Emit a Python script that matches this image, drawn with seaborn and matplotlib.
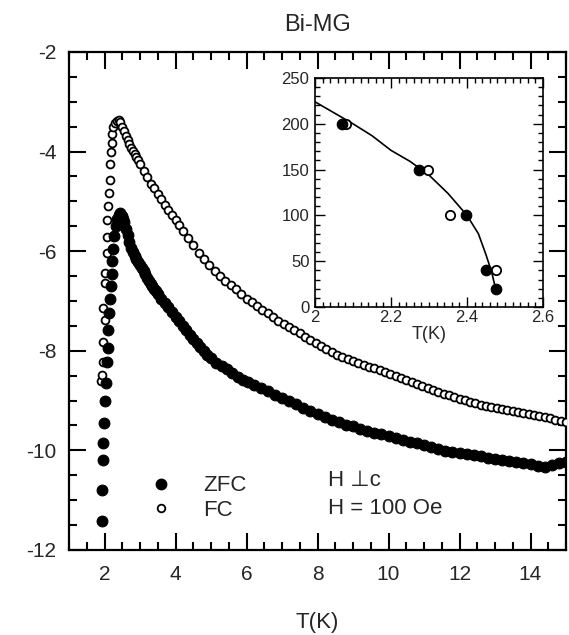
import numpy as np
import pandas as pd
import matplotlib
matplotlib.use("Agg")
import matplotlib.pyplot as plt
from matplotlib.lines import Line2D
from matplotlib.ticker import MultipleLocator
import seaborn as sns

# ---------------- data ----------------
zfc_T = [1.92, 1.93, 1.96, 1.96, 1.98, 2.02, 2.03, 2.07, 2.09, 2.11, 2.14, 2.15, 2.18,
         2.20, 2.22, 2.25, 2.28, 2.32, 2.36, 2.40, 2.44, 2.48,
         2.52, 2.55, 2.60, 2.65, 2.70, 2.75, 2.80, 2.85, 2.90, 2.95, 3.00, 3.05, 3.10,
         3.15, 3.20, 3.25, 3.30, 3.35, 3.40, 3.45,
         3.5, 3.6, 3.7, 3.8, 3.9, 4.0, 4.1, 4.2, 4.3, 4.4, 4.5, 4.6, 4.7, 4.8, 4.9, 5.0,
         5.15, 5.3, 5.45, 5.6, 5.75, 5.9, 6.05, 6.2,
         6.4, 6.6, 6.8, 7.0,
         7.2, 7.4, 7.6, 7.8, 8.0, 8.2, 8.4, 8.6, 8.8, 9.0, 9.2, 9.4, 9.6, 9.8, 10.0,
         10.2, 10.4, 10.6, 10.8, 11.0, 11.2, 11.4, 11.6, 11.8, 12.0, 12.2, 12.4, 12.6,
         12.8, 13.0, 13.2, 13.4, 13.6, 13.8, 14.0, 14.2, 14.4, 14.6, 14.8, 15.0]
zfc_M = [-11.42, -10.80, -10.19, -9.85, -9.44, -9.00, -8.65, -8.22, -7.95, -7.58, -7.24, -6.95, -6.70,
         -6.45, -6.20, -5.95, -5.70, -5.50, -5.35, -5.28, -5.24, -5.30,
         -5.36, -5.42, -5.55, -5.68, -5.81, -5.93, -6.02, -6.10, -6.16, -6.22, -6.28, -6.33, -6.40,
         -6.46, -6.53, -6.60, -6.65, -6.70, -6.75, -6.80,
         -6.85, -6.95, -7.04, -7.13, -7.23, -7.32, -7.41, -7.50, -7.59, -7.68, -7.77, -7.85, -7.93, -8.00, -8.08, -8.15,
         -8.24, -8.30, -8.36, -8.44, -8.52, -8.58, -8.63, -8.68,
         -8.74, -8.80, -8.88, -8.94,
         -9.00, -9.07, -9.14, -9.21, -9.26, -9.32, -9.38, -9.43, -9.48, -9.52, -9.57, -9.61, -9.65, -9.68, -9.72,
         -9.76, -9.79, -9.83, -9.86, -9.90, -9.94, -9.98, -10.01, -10.04, -10.06, -10.08, -10.10, -10.12,
         -10.15, -10.17, -10.19, -10.21, -10.23, -10.25, -10.28, -10.31, -10.33, -10.29, -10.26, -10.23]

fc_T = [1.90, 1.92, 1.97, 1.97, 1.97, 2.01, 2.01, 2.01, 2.06, 2.06, 2.06, 2.11, 2.13, 2.15,
        2.15, 2.17, 2.20, 2.22, 2.25, 2.30, 2.35, 2.40, 2.45,
        2.5, 2.55, 2.6, 2.65, 2.7, 2.75, 2.8, 2.85, 2.9, 2.95, 3.0, 3.1, 3.2, 3.3, 3.4, 3.5, 3.6,
        3.7, 3.8, 3.9, 4.0, 4.1,
        4.2, 4.35, 4.5, 4.65, 4.8, 4.95, 5.1, 5.25, 5.4, 5.55, 5.7, 5.85, 6.0, 6.15, 6.3,
        6.45, 6.6, 6.75, 6.9, 7.05, 7.2, 7.35, 7.5, 7.65, 7.8, 7.95, 8.1, 8.25, 8.4, 8.55,
        8.7, 8.85, 9.0, 9.15, 9.3, 9.45, 9.6, 9.75, 9.9, 10.05, 10.2, 10.35, 10.5, 10.65,
        10.8, 10.95, 11.1, 11.25, 11.4, 11.55, 11.7, 11.85, 12.0, 12.15, 12.3, 12.45, 12.6,
        12.75, 12.9, 13.05, 13.2, 13.35, 13.5, 13.65, 13.8, 13.95, 14.1, 14.25, 14.4, 14.55,
        14.7, 14.85, 15.0]
fc_M = [-8.60, -8.49, -8.22, -7.82, -7.15, -7.38, -6.64, -6.44, -6.04, -5.71, -5.37, -5.10, -4.84, -4.57,
        -4.24, -4.00, -3.83, -3.65, -3.50, -3.42, -3.38, -3.37, -3.40,
        -3.50, -3.59, -3.68, -3.77, -3.85, -3.92, -3.98, -4.04, -4.10, -4.17, -4.25, -4.38, -4.52, -4.65, -4.74, -4.85, -4.96,
        -5.07, -5.18, -5.28, -5.38, -5.48,
        -5.60, -5.74, -5.88, -6.03, -6.15, -6.28, -6.40, -6.50, -6.60, -6.68, -6.76, -6.86, -6.95, -7.03, -7.10,
        -7.18, -7.25, -7.32, -7.40, -7.46, -7.52, -7.58, -7.64, -7.72, -7.78, -7.84, -7.90, -7.96, -8.02, -8.08,
        -8.13, -8.17, -8.21, -8.25, -8.29, -8.32, -8.35, -8.39, -8.43, -8.47, -8.51, -8.55, -8.59, -8.62,
        -8.66, -8.70, -8.74, -8.78, -8.82, -8.86, -8.89, -8.92, -8.96, -8.99, -9.02, -9.05, -9.08,
        -9.10, -9.13, -9.15, -9.17, -9.19, -9.21, -9.23, -9.25, -9.27, -9.29, -9.31, -9.33, -9.35,
        -9.38, -9.40, -9.42]

inset_zfc_T = [2.07, 2.273, 2.397, 2.449, 2.477]
inset_zfc_H = [200, 150, 100, 40, 20]
inset_fc_T = [2.081, 2.298, 2.355, 2.477]
inset_fc_H = [200, 150, 100, 40]
fit_T = [2.00, 2.05, 2.10, 2.15, 2.20, 2.25, 2.30, 2.35, 2.40, 2.43, 2.45, 2.465, 2.474, 2.477]
fit_H = [224, 212, 200, 187, 171, 159, 144, 124, 100, 80, 57, 38, 22, 18]

x_ticks = [2, 4, 6, 8, 10, 12, 14]
y_ticks = [-12, -10, -8, -6, -4, -2]
inset_x_ticks = [2, 2.2, 2.4, 2.6]
inset_y_ticks = [0, 50, 100, 150, 200, 250]

# ---------------- style ----------------
sns.set_style("ticks")
plt.rcParams['font.family'] = ['Liberation Sans', 'DejaVu Sans']

fig = plt.figure(figsize=(5.69, 6.35), dpi=100)
ax = fig.add_axes([69/569, 1-550/635, 497/569, 498/635])

fc_df = pd.DataFrame({"T": fc_T, "M": fc_M})
zfc_df = pd.DataFrame({"T": zfc_T, "M": zfc_M})

sns.scatterplot(data=fc_df, x="T", y="M", ax=ax, marker="o", s=32,
                color="white", edgecolor="black", linewidth=1.3, zorder=3)
sns.scatterplot(data=zfc_df, x="T", y="M", ax=ax, marker="o", s=60,
                color="black", edgecolor="black", linewidth=0.8, zorder=4)

ax.set_xlim(1, 15)
ax.set_ylim(-12, -2)
ax.set_xticks(x_ticks)
ax.set_yticks(y_ticks)
ax.set_xticklabels([str(v) for v in x_ticks])
ax.set_yticklabels([str(v) for v in y_ticks])
ax.xaxis.set_minor_locator(MultipleLocator(0.5))
ax.yaxis.set_minor_locator(MultipleLocator(0.5))
ax.tick_params(which="both", direction="in", top=True, right=True, width=1.5, color="black")
ax.tick_params(which="major", length=12, labelsize=15)
ax.tick_params(which="minor", length=6)
ax.tick_params(axis="x", which="major", pad=11)
ax.tick_params(axis="y", which="major", pad=9)
for sp in ax.spines.values():
    sp.set_linewidth(1.6)
    sp.set_color("black")
ax.set_xlabel("T(K)", fontsize=16, labelpad=20)
ax.set_ylabel("")
ax.set_title("Bi-MG", fontsize=17, pad=15)

# legend
h1 = Line2D([], [], marker="o", linestyle="none", markersize=7.5, markerfacecolor="black",
            markeredgecolor="black")
h2 = Line2D([], [], marker="o", linestyle="none", markersize=5.5, markerfacecolor="white",
            markeredgecolor="black", markeredgewidth=1.3)
leg = fig.legend(handles=[h1, h2], labels=["ZFC", "FC"], loc="center left",
                 bbox_to_anchor=(152/569, 1-498/635), frameon=False, fontsize=16,
                 handlelength=0.8, handletextpad=1.5, labelspacing=0.15,
                 borderpad=0, borderaxespad=0)

fig.text(328/569, 1-481/635, "H \u22a5c", fontsize=16, va="center", ha="left")
fig.text(328/569, 1-509/635, "H = 100 Oe", fontsize=16, va="center", ha="left")

# ---------------- inset ----------------
axin = fig.add_axes([315/569, 1-307/635, 228/569, 229/635])
sns.lineplot(x=fit_T, y=fit_H, ax=axin, color="black", linewidth=1.2, sort=False,
             estimator=None)
sns.scatterplot(x=inset_fc_T, y=inset_fc_H, ax=axin, marker="o", s=45,
                color="white", edgecolor="black", linewidth=1.3, zorder=3)
sns.scatterplot(x=inset_zfc_T, y=inset_zfc_H, ax=axin, marker="o", s=58,
                color="black", edgecolor="black", linewidth=0.8, zorder=4)
axin.set_xlim(2, 2.6)
axin.set_ylim(0, 250)
axin.set_xticks(inset_x_ticks)
axin.set_yticks(inset_y_ticks)
axin.set_xticklabels(["2", "2.2", "2.4", "2.6"])
axin.set_yticklabels([str(v) for v in inset_y_ticks])
axin.xaxis.set_minor_locator(MultipleLocator(0.02))
axin.yaxis.set_minor_locator(MultipleLocator(10))
axin.tick_params(which="both", direction="in", top=True, right=True, width=1.0, color="black")
axin.tick_params(which="major", length=7, labelsize=12)
axin.tick_params(which="minor", length=3.5)
axin.tick_params(axis="x", which="major", pad=2)
axin.tick_params(axis="y", which="major", pad=4)
for sp in axin.spines.values():
    sp.set_linewidth(1.2)
    sp.set_color("black")
axin.set_xlabel("T(K)", fontsize=13, labelpad=1)
axin.set_ylabel("")

fig.savefig("out.png", dpi=100)
